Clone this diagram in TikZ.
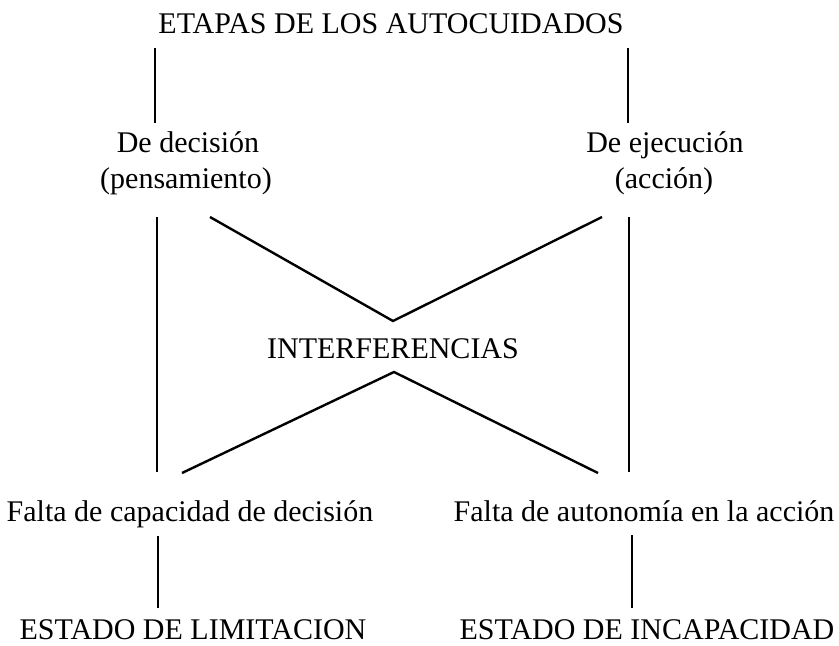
\documentclass[tikz,border=0pt]{standalone}
\usepackage{fontspec}
\setmainfont{Liberation Serif}
\tikzset{
  lbl/.style={anchor=base, inner sep=0pt, font=\fontsize{30}{35}\selectfont},
  link/.style={line width=2.4pt, line cap=butt}
}
\begin{document}
\begin{tikzpicture}[x=1pt, y=-1pt]
\useasboundingbox (0,0) rectangle (839,646);
% texts
\node[lbl] (title) at (391,33) {ETAPAS DE LOS AUTOCUIDADOS};
\node[lbl] (dec1) at (188,152) {De decisión};
\node[lbl] (dec2) at (186,188) {(pensamiento)};
\node[lbl] (eje1) at (665,152) {De ejecución};
\node[lbl] (eje2) at (664,188) {(acción)};
\node[lbl] (inter) at (393,358) {INTERFERENCIAS};
\node[lbl] (fcap) at (190,521) {Falta de capacidad de decisión};
\node[lbl] (faut) at (644,521) {Falta de autonomía en la acción};
\node[lbl] (elim) at (193,639) {ESTADO DE LIMITACION};
\node[lbl] (einc) at (647,639) {ESTADO DE INCAPACIDAD};
% line end points
\coordinate (tl1) at (155,48);  \coordinate (tl2) at (155,123);
\coordinate (tr1) at (628,48);  \coordinate (tr2) at (628,123);
\coordinate (ml1) at (157,217); \coordinate (ml2) at (157,472);
\coordinate (mr1) at (629,217); \coordinate (mr2) at (629,472);
\coordinate (vl) at (210,217);  \coordinate (vtop) at (393,321); \coordinate (vr) at (602,217);
\coordinate (al) at (182,473);  \coordinate (abot) at (394,372); \coordinate (ar) at (598,473);
\coordinate (bl1) at (158,536); \coordinate (bl2) at (158,608);
\coordinate (br1) at (632,535); \coordinate (br2) at (632,608);
% connectors
\draw[link] (tl1) -- (tl2);
\draw[link] (tr1) -- (tr2);
\draw[link] (ml1) -- (ml2);
\draw[link] (mr1) -- (mr2);
\draw[link, line join=miter] (vl) -- (vtop) -- (vr);
\draw[link, line join=miter] (al) -- (abot) -- (ar);
\draw[link] (bl1) -- (bl2);
\draw[link] (br1) -- (br2);
\end{tikzpicture}
\end{document}
